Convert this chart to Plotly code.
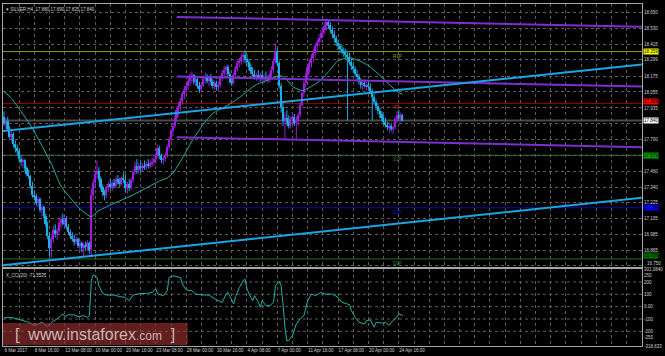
import plotly.graph_objects as go

# ---------------- data ----------------
bar_open = [17.87,17.82,17.84,17.78,17.72,17.74,17.66,17.63,17.61,17.55,
17.53,17.54,17.48,17.44,17.42,17.35,17.28,17.27,17.22,17.25,
17.17,17.19,17.12,17.06,16.97,16.88,16.95,17.02,16.99,17.01,
17.07,17.10,17.06,17.11,17.04,17.00,16.97,16.95,16.93,16.95,
16.90,16.92,16.88,16.90,16.89,16.92,16.87,17.28,17.37,17.44,
17.46,17.40,17.34,17.30,17.28,17.33,17.36,17.34,17.37,17.35,
17.40,17.38,17.36,17.41,17.39,17.33,17.36,17.33,17.39,17.45,
17.50,17.47,17.50,17.48,17.50,17.49,17.51,17.50,17.52,17.53,
17.55,17.58,17.63,17.57,17.54,17.56,17.58,17.64,17.70,17.76,
17.80,17.86,17.92,17.95,17.99,18.04,18.07,18.10,18.14,18.16,
18.18,18.13,18.15,18.10,18.08,18.11,18.15,18.17,18.14,18.16,
18.13,18.10,18.12,18.09,18.11,18.16,18.20,18.22,18.24,18.19,
18.14,18.13,18.18,18.23,18.27,18.29,18.32,18.33,18.30,18.28,
18.24,18.21,18.19,18.17,18.18,18.16,18.18,18.15,18.17,18.15,
18.16,18.18,18.22,18.29,18.36,18.27,18.10,17.94,17.84,17.86,
17.83,17.80,17.85,17.87,17.82,17.84,17.88,17.96,18.05,18.12,
18.18,18.24,18.27,18.31,18.35,18.40,18.43,18.46,18.50,18.52,
18.55,18.58,18.56,18.52,18.49,18.46,18.42,18.40,18.38,18.36,
18.35,18.33,18.32,18.28,18.25,18.23,18.19,18.17,18.13,18.11,
18.12,18.10,18.11,18.09,18.06,18.02,17.98,17.95,17.91,17.89,
17.86,17.83,17.81,17.79,17.80,17.78,17.79,17.85,17.88,17.86,
17.880]
bar_high = [17.91,17.86,17.87,17.80,17.76,17.75,17.69,17.66,17.63,17.58,
17.56,17.55,17.50,17.47,17.43,17.38,17.31,17.29,17.27,17.26,
17.21,17.20,17.14,17.08,17.00,16.97,17.05,17.06,17.03,17.10,
17.12,17.14,17.13,17.12,17.06,17.02,17.00,16.98,16.97,16.96,
16.94,16.93,16.92,16.93,16.94,16.93,17.33,17.40,17.47,17.54,
17.49,17.42,17.36,17.32,17.35,17.38,17.40,17.39,17.40,17.42,
17.43,17.41,17.42,17.45,17.43,17.38,17.40,17.41,17.47,17.53,
17.55,17.52,17.53,17.52,17.54,17.53,17.55,17.54,17.56,17.57,
17.60,17.66,17.65,17.59,17.57,17.60,17.66,17.72,17.78,17.82,
17.88,17.94,17.98,18.01,18.06,18.10,18.13,18.17,18.20,18.21,
18.19,18.18,18.17,18.13,18.12,18.17,18.20,18.19,18.18,18.19,
18.15,18.14,18.14,18.13,18.18,18.22,18.25,18.26,18.26,18.21,
18.17,18.20,18.25,18.29,18.31,18.34,18.36,18.37,18.34,18.30,
18.27,18.24,18.22,18.20,18.22,18.20,18.21,18.19,18.21,18.18,
18.20,18.25,18.31,18.42,18.39,18.29,18.12,17.97,17.90,17.92,
17.88,17.87,17.90,17.89,17.87,17.90,17.98,18.07,18.14,18.20,
18.26,18.30,18.34,18.38,18.42,18.45,18.49,18.52,18.55,18.58,
18.61,18.60,18.58,18.55,18.52,18.48,18.45,18.42,18.41,18.39,
18.38,18.36,18.35,18.31,18.28,18.25,18.22,18.19,18.16,18.14,
18.15,18.13,18.14,18.12,18.08,18.04,18.00,17.97,17.94,17.91,
17.88,17.86,17.83,17.82,17.82,17.80,17.87,17.91,17.92,17.90,
17.890]
bar_low = [17.80,17.78,17.76,17.70,17.68,17.64,17.60,17.58,17.53,17.50,
17.48,17.46,17.42,17.40,17.33,17.26,17.24,17.20,17.19,17.15,
17.12,17.10,17.04,16.95,16.82,16.81,16.92,16.96,16.94,16.98,
17.03,17.05,17.04,17.02,16.98,16.95,16.93,16.90,16.91,16.88,
16.86,16.85,16.82,16.86,16.87,16.84,16.82,17.24,17.33,17.40,
17.38,17.32,17.27,17.24,17.26,17.30,17.32,17.31,17.33,17.33,
17.36,17.34,17.35,17.37,17.30,17.29,17.31,17.32,17.37,17.43,
17.44,17.44,17.45,17.46,17.47,17.47,17.48,17.48,17.49,17.50,
17.52,17.56,17.55,17.52,17.51,17.53,17.56,17.62,17.68,17.72,
17.78,17.83,17.88,17.92,17.96,18.00,18.03,18.07,18.10,18.12,
18.11,18.10,18.08,18.05,18.05,18.09,18.12,18.12,18.10,18.11,
18.08,18.07,18.07,18.06,18.09,18.14,18.17,18.18,18.17,18.12,
18.10,18.11,18.16,18.21,18.24,18.26,18.28,18.27,18.25,18.22,
18.19,18.17,18.15,18.14,18.15,18.13,18.14,18.12,18.14,18.12,
18.13,18.16,18.20,18.27,18.25,18.08,17.90,17.80,17.70,17.81,
17.78,17.78,17.82,17.80,17.70,17.80,17.86,17.94,18.02,18.09,
18.15,18.20,18.24,18.28,18.32,18.35,18.40,18.43,18.46,18.49,
18.52,18.53,18.50,18.46,18.43,18.40,18.37,18.35,18.34,18.32,
18.31,17.84,18.26,18.22,18.20,18.17,18.14,18.11,18.08,18.07,
18.09,18.07,18.08,18.04,17.84,17.96,17.92,17.89,17.86,17.84,
17.81,17.79,17.77,17.75,17.76,17.74,17.77,17.82,17.84,17.83,
17.835]
bar_close = [17.82,17.84,17.78,17.72,17.74,17.66,17.63,17.61,17.55,17.53,
17.54,17.48,17.44,17.42,17.35,17.28,17.27,17.22,17.25,17.17,
17.19,17.12,17.06,16.97,16.88,16.95,17.02,16.99,17.01,17.07,
17.10,17.06,17.11,17.04,17.00,16.97,16.95,16.93,16.95,16.90,
16.92,16.88,16.90,16.89,16.92,16.87,17.28,17.37,17.44,17.46,
17.40,17.34,17.30,17.28,17.33,17.36,17.34,17.37,17.35,17.40,
17.38,17.36,17.41,17.39,17.33,17.36,17.33,17.39,17.45,17.50,
17.47,17.50,17.48,17.50,17.49,17.51,17.50,17.52,17.53,17.55,
17.58,17.63,17.57,17.54,17.56,17.58,17.64,17.70,17.76,17.80,
17.86,17.92,17.95,17.99,18.04,18.07,18.10,18.14,18.16,18.18,
18.13,18.15,18.10,18.08,18.11,18.15,18.17,18.14,18.16,18.13,
18.10,18.12,18.09,18.11,18.16,18.20,18.22,18.24,18.19,18.14,
18.13,18.18,18.23,18.27,18.29,18.32,18.33,18.30,18.28,18.24,
18.21,18.19,18.17,18.18,18.16,18.18,18.15,18.17,18.15,18.16,
18.18,18.22,18.29,18.36,18.27,18.10,17.94,17.84,17.86,17.83,
17.80,17.85,17.87,17.82,17.84,17.88,17.96,18.05,18.12,18.18,
18.24,18.27,18.31,18.35,18.40,18.43,18.46,18.50,18.52,18.55,
18.58,18.56,18.52,18.49,18.46,18.42,18.40,18.38,18.36,18.35,
18.33,18.32,18.28,18.25,18.23,18.19,18.17,18.13,18.11,18.12,
18.10,18.11,18.09,18.06,18.02,17.98,17.95,17.91,17.89,17.86,
17.83,17.81,17.79,17.80,17.78,17.79,17.85,17.88,17.86,17.88,
17.840]

ma_idx = [0,4,9,14,19,25,30,35,40,46,49,54,61,68,75,82,86,89,94,99,105,110,117,
          124,133,140,145,148,152,157,161,166,171,176,182,187,192,197,203,207,210]
ma_val = [18.059,18.006,17.909,17.805,17.677,17.513,17.348,17.258,17.176,17.116,17.154,
          17.191,17.236,17.281,17.333,17.386,17.408,17.445,17.558,17.685,17.812,17.894,
          17.947,18.014,18.111,18.149,18.179,18.164,18.096,18.066,18.089,18.134,18.208,
          18.291,18.313,18.291,18.253,18.193,18.111,18.059,18.036]

cci_idx = [0,2,5,8,10,13,16,18,20,23,25,28,31,32,34,37,39,42,44,45,46,47,49,50,52,54,58,
           61,64,66,68,72,75,78,80,81,84,86,87,89,93,94,96,99,101,105,108,112,115,117,118,
           121,122,124,126,127,128,130,131,132,134,135,136,138,140,142,143,145,146,147,148,
           149,150,152,154,156,158,160,162,164,167,169,173,176,178,182,183,185,187,190,191,
           193,195,196,199,201,203,204,206,208,210]
cci_val = [-91,-86,-91,-107,-113,-127,-153,-140,-127,-161,-127,-99,-59,-81,-65,-67,-81,-73,
           -86,-73,210,258,236,169,107,94,94,81,75,48,94,107,107,115,143,102,89,129,236,250,
           236,183,135,129,102,94,94,54,35,102,115,22,81,156,210,223,143,75,48,89,35,-5,48,
           8,8,35,169,204,169,22,-167,-274,-274,-234,-140,-99,-73,48,102,89,115,102,102,75,
           35,16,-32,-86,-127,-140,-113,-107,-167,-127,-134,-127,-153,-127,-99,-59,-71.55]

level_prices = [18.359, 17.969, 17.579, 17.184, 16.799]
level_names = ["R1P", "PP", "S1P", "S2P", "S3P"]
top_level_price = 18.749
top_level_name = "R2P"

channel_idx = [91, 336]
channel_upper = [18.620, 18.545]
channel_mid = [18.171, 18.096]
channel_lower = [17.715, 17.640]

trend_idx = [-1.6, 336]
trend_upper = [17.760, 18.261]
trend_lower = [16.750, 17.259]

price_ticks = [16.750, 16.865, 16.985, 17.105, 17.225, 17.340, 17.460, 17.580, 17.700,
               17.820, 17.935, 18.055, 18.175, 18.299, 18.415, 18.530, 18.650]
hidden_price_ticks = [17.580, 17.820]   # covered by the coloured price boxes
bottom_price_tick = 16.750               # label lifted slightly above the panel edge
cci_ticks = [301.084, 250, 200, 100, 0, -100, -200, -250, -318.633]
cci_tick_text = ["301.0840", "250", "200", "100", "0.00", "-100", "-200", "-250", "-318.633"]
cci_grid = [200, 100, 0, -100, -200]

date_idx = [0, 16, 32, 48, 64, 80, 96, 112, 128, 144, 160, 176, 192, 208]
date_text = ["6 Mar 2017", "8 Mar 16:00", "13 Mar 08:00", "16 Mar 00:00", "20 Mar 16:00",
             "23 Mar 08:00", "28 Mar 00:00", "30 Mar 16:00", "4 Apr 08:00", "7 Apr 00:00",
             "11 Apr 16:00", "17 Apr 08:00", "20 Apr 00:00", "24 Apr 16:00"]

title_text = "SILVER,H4  17.880 17.890 17.835 17.840"
cci_title = "X_CCI(20) -71.5535"

# ---------------- styling ----------------
BULL = "#9a1fdc"
BEAR = "#1ab0e8"
PURPLE = "#7b2fce"
TREND = "#1aa6e4"
TEAL = "#22b0ab"
GRID = "#5c5c5c"
FRAME = "#a8a8a8"
TXT = "#d2d2d2"
FONT = "Liberation Sans"
FS = 4.5
level_line_colors = ["#9a9a00", "#a00000", "#256f25", "#0a0ab4", "#256f25"]
level_text_colors = ["#a8a800", "#c01010", "#2a8a2a", "#1010d0", "#2a8a2a"]
level_box_colors = ["#ffff00", "#ff0000", "#00a000", "#0000ff", "#007000"]
level_box_shift = [0, 2, 0, 0, 3]

XR = [-0.52, 336.1]
n = len(bar_close)
idx = list(range(n))

fig = go.Figure()

# candle bodies
body_base = [min(o, c) for o, c in zip(bar_open, bar_close)]
body_h = [max(abs(c - o), 0.004) for o, c in zip(bar_open, bar_close)]
body_col = [BULL if c >= o else BEAR for o, c in zip(bar_open, bar_close)]

# wicks
for col in (BULL, BEAR):
    wx, wy = [], []
    for i in idx:
        if body_col[i] == col:
            wx += [i, i, None]
            wy += [bar_low[i], bar_high[i], None]
    fig.add_trace(go.Scatter(x=wx, y=wy, mode="lines", line=dict(color=col, width=1),
                             hoverinfo="skip", xaxis="x", yaxis="y"))

fig.add_trace(go.Bar(x=idx, y=body_h, base=body_base, width=0.85,
                     marker=dict(color=body_col, line=dict(width=0)),
                     xaxis="x", yaxis="y"))

# moving average
fig.add_trace(go.Scatter(x=ma_idx, y=ma_val, mode="lines",
                         line=dict(color=TEAL, width=1, shape="spline", smoothing=0.6),
                         xaxis="x", yaxis="y"))

# channel lines
for ys in (channel_upper, channel_mid, channel_lower):
    fig.add_trace(go.Scatter(x=channel_idx, y=ys, mode="lines",
                             line=dict(color=PURPLE, width=2), xaxis="x", yaxis="y"))
# trend lines
for ys in (trend_upper, trend_lower):
    fig.add_trace(go.Scatter(x=trend_idx, y=ys, mode="lines",
                             line=dict(color=TREND, width=2), xaxis="x", yaxis="y"))

# CCI
fig.add_trace(go.Scatter(x=cci_idx, y=cci_val, mode="lines",
                         line=dict(color=TEAL, width=1), xaxis="x2", yaxis="y2"))

shapes = []
for p, c in zip(level_prices, level_line_colors):
    shapes.append(dict(type="line", xref="x domain", x0=0, x1=1, yref="y", y0=p, y1=p,
                       line=dict(color=c, width=1), layer="below"))
shapes.append(dict(type="line", xref="x domain", x0=0, x1=1, yref="y",
                   y0=bar_close[-1], y1=bar_close[-1],
                   line=dict(color="#4a4a4a", width=2), layer="below"))
for g in cci_grid:
    shapes.append(dict(type="line", xref="x2 domain", x0=0, x1=1, yref="y2", y0=g, y1=g,
                       line=dict(color=GRID, width=1, dash="dot"), layer="below"))
# watermark box
shapes.append(dict(type="rect", xref="paper", yref="paper", x0=0.0, x1=0.289,
                   y0=0.003, y1=0.067, fillcolor="rgba(160,48,48,0.62)",
                   line=dict(width=0), layer="above"))

ann = []
for p, nm, tc, bc, sh in zip(level_prices, level_names, level_text_colors, level_box_colors,
                             level_box_shift):
    ann.append(dict(x=204, y=p, xref="x", yref="y", text=nm, showarrow=False,
                    xanchor="left", yanchor="top", font=dict(size=FS, color=tc, family=FONT)))
    ann.append(dict(x=1, y=p, xref="paper", yref="y", text=f"{p:.3f}", showarrow=False,
                    xanchor="left", xshift=1, yshift=sh, yanchor="middle", bgcolor=bc,
                    borderpad=0, font=dict(size=FS, color="#000000", family=FONT)))
ann.append(dict(x=204, y=top_level_price, xref="x", yref="y", text=top_level_name,
                showarrow=False, xanchor="left", yanchor="bottom",
                font=dict(size=FS, color="#1aa6e4", family=FONT)))
ann.append(dict(x=1, y=bar_close[-1], xref="paper", yref="y", text=f"{bar_close[-1]:.3f}",
                showarrow=False, xanchor="left", xshift=1, yanchor="middle", bgcolor="#ffffff",
                borderpad=0, font=dict(size=FS, color="#000000", family=FONT)))
ann.append(dict(x=1, y=bottom_price_tick, xref="paper", yref="y",
                text=f"{bottom_price_tick:.3f}", showarrow=False, xanchor="left", xshift=3,
                yshift=2, yanchor="middle", font=dict(size=FS, color=TXT, family=FONT)))
ann.append(dict(x=0.002, y=0.997, xref="paper", yref="paper", text="▾ " + title_text,
                showarrow=False, xanchor="left", yanchor="top",
                font=dict(size=FS, color=TXT, family=FONT)))
ann.append(dict(x=0.002, y=0.98, xref="paper", yref="y2 domain", text=cci_title,
                showarrow=False, xanchor="left", yanchor="top",
                font=dict(size=FS, color=TXT, family=FONT)))
ann.append(dict(x=0.1446, y=0.035, xref="paper", yref="paper",
                text="[  www.instaforex<span style='font-size:12px'>.com</span>  ]",
                showarrow=False, xanchor="center", yanchor="middle",
                font=dict(size=16, color="rgba(215,215,215,0.85)", family=FONT)))

grid_vals = list(range(0, 337, 8))
grid_text = []
for v in grid_vals:
    grid_text.append(date_text[date_idx.index(v)] if v in date_idx else "")

price_text = ["" if (v in hidden_price_ticks or v == bottom_price_tick) else f"{v:.3f}"
              for v in price_ticks]

axis_common = dict(showline=True, mirror=True, linecolor=FRAME, linewidth=1, zeroline=False,
                   ticks="", tickfont=dict(size=FS, color=TXT, family=FONT))

fig.update_layout(
    width=665, height=356,
    margin=dict(l=2, r=20, t=2, b=10),
    paper_bgcolor="#000000", plot_bgcolor="#000000",
    showlegend=False, bargap=0,
    shapes=shapes, annotations=ann,
    xaxis=dict(domain=[0, 1], range=XR, anchor="y", tickvals=grid_vals, showticklabels=False,
               showgrid=True, gridcolor=GRID, griddash="dot", gridwidth=1,
               rangeslider=dict(visible=False), **axis_common),
    yaxis=dict(domain=[0.2297, 1], range=[16.735, 18.717], anchor="x", side="right",
               tickvals=price_ticks, ticktext=price_text,
               showgrid=True, gridcolor=GRID, griddash="dot", gridwidth=1, **axis_common),
    xaxis2=dict(domain=[0, 1], range=XR, anchor="y2", tickvals=grid_vals, ticktext=grid_text,
                ticklabelposition="outside right", tickangle=0, showgrid=True, gridcolor=GRID,
                griddash="dot", gridwidth=1, **axis_common),
    yaxis2=dict(domain=[0, 0.2238], range=[-318.633, 301.084], anchor="x2", side="right",
                tickvals=cci_ticks, ticktext=cci_tick_text, showgrid=False, **axis_common),
)

fig.write_html("out.html")
